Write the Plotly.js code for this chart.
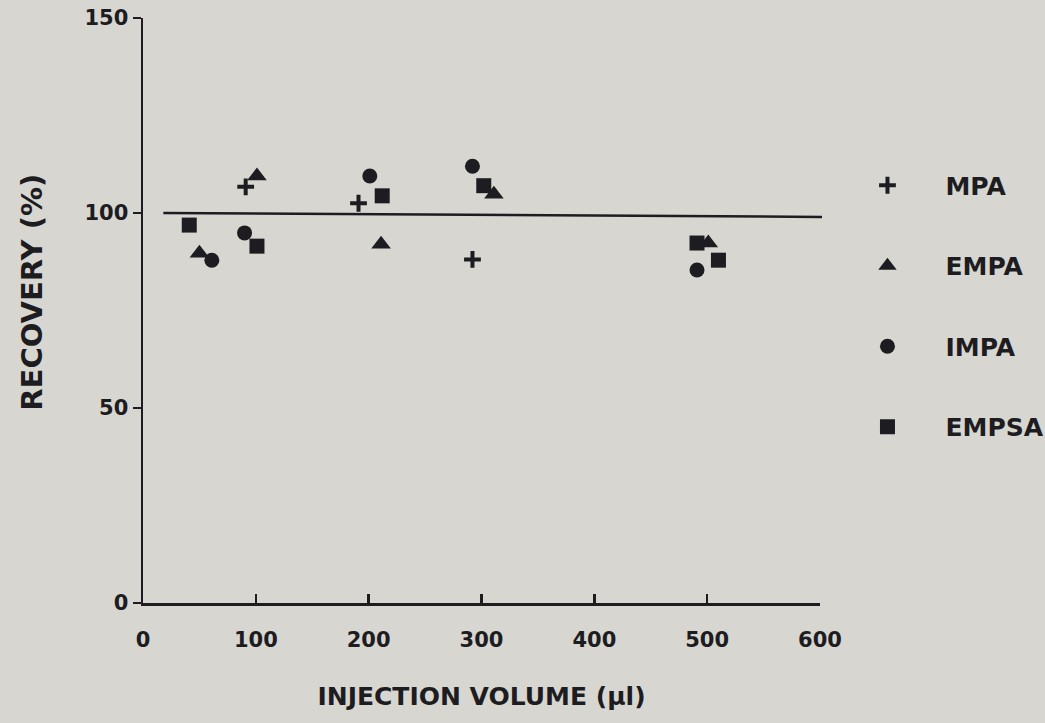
<!DOCTYPE html>
<html>
<head>
<meta charset="utf-8">
<script src="https://cdn.plot.ly/plotly-3.0.1.min.js"></script>
<style>
  html, body { margin: 0; padding: 0; background: #d8d6d1; }
  #chart { width: 1045px; height: 723px; }
</style>
</head>
<body>
<div id="chart"></div>
<script>
// Injection volume (µl) and recovery (%) for each compound
const mpaX   = [91, 191, 292];
const mpaY   = [106.7, 102.5, 88.1];
const empaX  = [50, 101, 211, 311, 501];
const empaY  = [89.7, 109.5, 92.0, 104.8, 92.3];
const impaX  = [61, 90, 201, 292, 491];
const impaY  = [87.9, 94.9, 109.5, 112.0, 85.4];
const empsaX = [41, 101, 212, 302, 491, 510];
const empsaY = [96.9, 91.5, 104.4, 107.0, 92.3, 87.9];
const seriesNames = ["MPA", "EMPA", "IMPA", "EMPSA"];
const xTicks = [0, 100, 200, 300, 400, 500, 600];
const yTicks = [0, 50, 100, 150];
const refLevel = 100;

const ink = "#1d1d21";
const fontFam = "DejaVu Sans, Liberation Sans, Arial, sans-serif";

function tr(x, y, name, marker) {
  return {
    type: "scatter", mode: "markers", x: x, y: y, name: name,
    legendgroup: name, cliponaxis: false,
    marker: Object.assign({ color: ink, line: { width: 0, color: ink } }, marker)
  };
}

const data = [
  tr(mpaX, mpaY, seriesNames[0], { symbol: "cross-thin", size: 12, line: { width: 4, color: ink } }),
  tr(empaX, empaY, seriesNames[1], { symbol: "triangle-up", size: 17 }),
  tr(impaX, impaY, seriesNames[2], { symbol: "circle", size: 15 }),
  tr(empsaX, empsaY, seriesNames[3], { symbol: "square", size: 15 })
];

const layout = {
  width: 1045, height: 723,
  paper_bgcolor: "#d8d6d1", plot_bgcolor: "rgba(0,0,0,0)",
  margin: { l: 143, r: 225, t: 18, b: 120, autoexpand: false },
  font: { family: fontFam, color: ink },
  showlegend: true,
  legend: {
    x: 1.014, xanchor: "left", y: 0.753, yanchor: "top",
    bgcolor: "rgba(0,0,0,0)", itemwidth: 106,
    tracegroupgap: 45,
    font: { family: fontFam, size: 25, color: ink, weight: "bold" }
  },
  xaxis: {
    range: [0, 600], tickvals: xTicks, ticktext: xTicks.map(String),
    showgrid: false, zeroline: false, showline: true, linecolor: ink, linewidth: 2.5,
    ticks: "inside", ticklen: 9, tickwidth: 2.5, tickcolor: ink,
    ticklabelstandoff: 16,
    tickfont: { family: fontFam, size: 21, color: ink, weight: "bold" },
    title: { text: "INJECTION VOLUME (µl)", standoff: 37,
      font: { family: fontFam, size: 25, color: ink, weight: "bold" } }
  },
  yaxis: {
    range: [0, 150], tickvals: yTicks, ticktext: yTicks.map(String),
    showgrid: false, zeroline: false, showline: true, linecolor: ink, linewidth: 2.5,
    ticks: "outside", ticklen: 8, tickwidth: 2.5, tickcolor: ink,
    ticklabelstandoff: 0,
    tickfont: { family: fontFam, size: 21, color: ink, weight: "bold" }
  },
  annotations: [
    { text: "RECOVERY (%)", xref: "paper", yref: "paper", x: -0.164, y: 0.532,
      xanchor: "center", yanchor: "middle", textangle: -90, showarrow: false,
      font: { family: fontFam, size: 29, color: ink, weight: "bold" } }
  ],
  shapes: [
    { type: "line", xref: "paper", yref: "y", x0: 0.03, x1: 1.003, y0: refLevel, y1: refLevel - 1,
      line: { color: ink, width: 2.5 } }
  ]
};

Plotly.newPlot("chart", data, layout, { displayModeBar: false, staticPlot: true });
</script>
</body>
</html>
